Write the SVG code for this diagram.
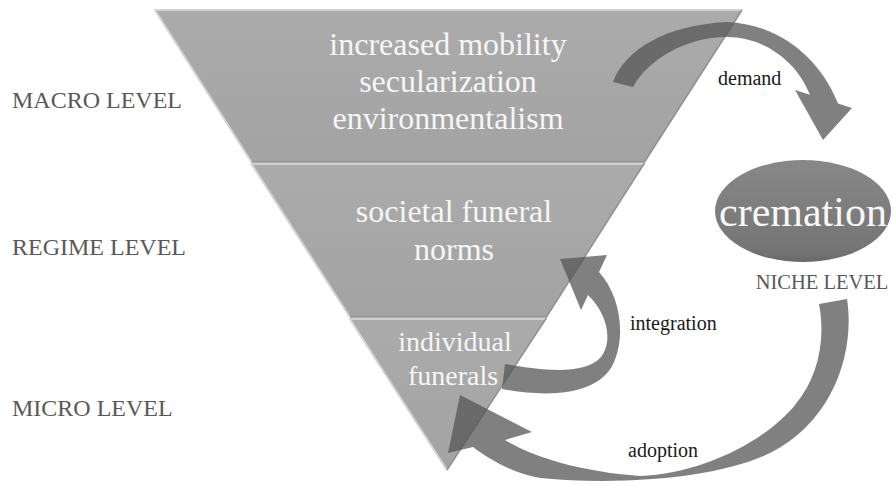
<svg xmlns="http://www.w3.org/2000/svg" width="893" height="486" viewBox="0 0 893 486">
  <defs>
    <linearGradient id="tierFill" x1="0" y1="0" x2="0" y2="1">
      <stop offset="0" stop-color="#ababab"/>
      <stop offset="1" stop-color="#a3a3a3"/>
    </linearGradient>
    <linearGradient id="nicheFill" x1="0" y1="0" x2="0" y2="1">
      <stop offset="0" stop-color="#888888"/>
      <stop offset="0.85" stop-color="#767676"/>
      <stop offset="1" stop-color="#6a6a6a"/>
    </linearGradient>
  </defs>
  <style>
    .tier { fill: url(#tierFill); }
    .hi { fill: none; stroke: #d2d2d2; stroke-width: 2; stroke-linejoin: round; }
    .lo { fill: none; stroke: #919191; stroke-width: 1.5; stroke-linejoin: round; }
    .serif { font-family: "Liberation Serif", "Times New Roman", serif; }
    .inner { fill: #f6f6f6; text-anchor: middle; }
    .level { fill: #595959; font-size: 24px; }
    .flow { fill: #565656; fill-opacity: 0.75; }
    .flowlabel { fill: #1a1a1a; font-size: 20px; }
  </style>

  <rect width="893" height="486" fill="#ffffff"/>

  <!-- level labels -->
  <g id="level-labels" class="serif">
    <text class="level" x="12" y="108">MACRO LEVEL</text>
    <text class="level" x="12" y="255">REGIME LEVEL</text>
    <text class="level" x="12" y="416">MICRO LEVEL</text>
  </g>

  <!-- inverted pyramid tiers -->
  <g id="macro" class="serif">
    <polygon class="tier" points="155,10 742,10 644.5,162 251.5,162"/>
    <polyline class="hi" points="251.5,162 155,10 742,10"/>
    <polyline class="lo" points="742,10 644.5,162 251.5,162"/>
    <text class="inner" x="448" y="55" font-size="32">increased mobility</text>
    <text class="inner" x="448" y="92" font-size="32">secularization</text>
    <text class="inner" x="448" y="129" font-size="32">environmentalism</text>
  </g>

  <g id="regime" class="serif">
    <polygon class="tier" points="251.5,163 644.5,163 546.4,317 349.9,317"/>
    <polyline class="hi" points="349.9,317 251.5,164 644.5,164"/>
    <polyline class="lo" points="644.5,163 546.4,317 349.9,317"/>
    <text class="inner" x="454" y="222" font-size="32">societal funeral</text>
    <text class="inner" x="454" y="260" font-size="32">norms</text>
  </g>

  <g id="micro" class="serif">
    <polygon class="tier" points="349.9,318 546.4,318 447,470"/>
    <polyline class="hi" points="447,470 349.9,319 546.4,319"/>
    <polyline class="lo" points="546.4,318 447,470"/>
    <text class="inner" x="455" y="351" font-size="28">individual</text>
    <text class="inner" x="453" y="385" font-size="28">funerals</text>
  </g>

  <!-- niche innovation -->
  <g id="cremation" class="serif">
    <ellipse cx="803" cy="211" rx="88" ry="51" fill="url(#nicheFill)"/>
    <text x="803" y="226" font-size="42" fill="#f8f8f8" text-anchor="middle">cremation</text>
    <text x="822" y="289" font-size="20.5" fill="#595959" text-anchor="middle">NICHE LEVEL</text>
  </g>

  <!-- curved flow arrows -->
  <g id="connectors" class="serif">
    <g id="demand">
      <path class="flow" d="M613,82 C625,50 665,25 727,22 C790,25 825,70 838,103.6 L852,108 L823,140 L795,90 L810,94.7 C797,62 765,37 727,37 C685,37 648,60 633,87 Z"/>
      <text class="flowlabel" x="718" y="85">demand</text>
    </g>
    <g id="integration">
      <path class="flow" d="M502,389 C550,398 600,395 614,362 C626,335 620,295 599,272 L607,255 L560,259 L581,310 L588,295 C606,312 614,340 601,357 C585,376 540,370 505,364 Z"/>
      <text class="flowlabel" x="630" y="330">integration</text>
    </g>
    <g id="adoption">
      <path class="flow" d="M847,299 C855,350 835,420 770,453 C720,478 620,486 540,478 C515,474 490,460 473,447 L448,453 L460,395 L532,432 L505,440 C530,456 580,472 640,476 C700,474 765,442 795,405 C818,378 826,340 819,304 Z"/>
      <text class="flowlabel" x="628" y="457">adoption</text>
    </g>
  </g>
</svg>
